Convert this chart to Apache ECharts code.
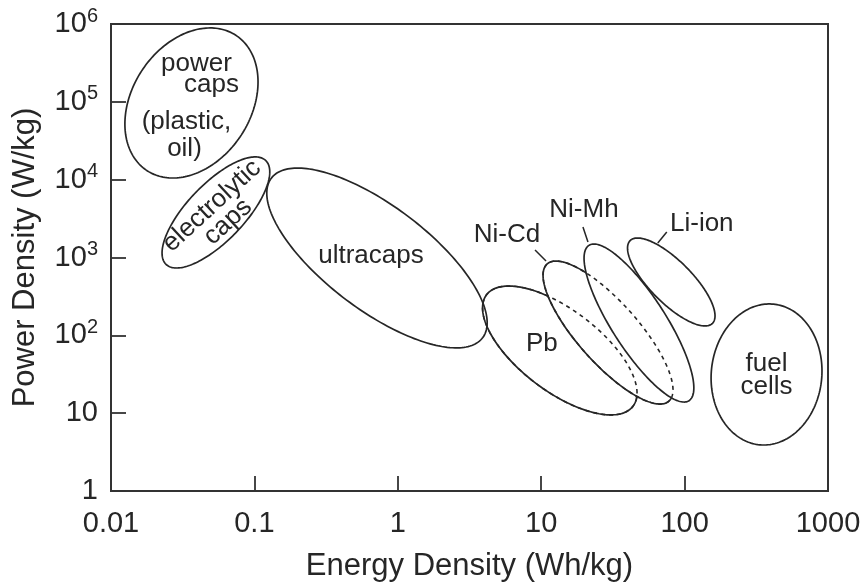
<!DOCTYPE html>
<html>
<head>
<meta charset="utf-8">
<script src="https://cdn.jsdelivr.net/npm/echarts@6/dist/echarts.min.js"></script>
<style>
  html, body { margin: 0; padding: 0; background: #ffffff; }
  #chart { width: 866px; height: 587px; }
</style>
</head>
<body>
<div id="chart"></div>
<script>
// Ragone plot: each storage technology occupies an elliptical region in
// (energy density, power density) space, both on log scales.
const technologies = ['power caps', 'electrolytic caps', 'ultracaps', 'Pb', 'Ni-Cd', 'Ni-Mh', 'Li-ion', 'fuel cells'];
// Extent of each region (Wh/kg and W/kg)
const energyMin = [0.0125, 0.0227, 0.122, 3.9, 10.3, 19.9, 40, 153];
const energyMax = [0.106, 0.128, 4.2, 46.6, 83, 116, 163, 908];
const powerMin  = [1.05e4, 733, 69, 9.5, 13.1, 13.9, 132, 3.9];
const powerMax  = [8.9e5, 1.96e4, 1.41e4, 430, 900, 1490, 1780, 253];
// Correlation between log energy and log power inside each region (tilt)
const tilt = [0.28, 0.73, -0.72, -0.66, -0.8, -0.82, -0.77, 0.05];

const energyTicks = ['0.01', '0.1', '1', '10', '100', '1000'];
const powerTicks = ['1', '10', '10^2', '10^3', '10^4', '10^5', '10^6'];

const INK = '#262626';
const FONT = '"Liberation Sans", Arial, Helvetica, sans-serif';

// Drawing style per region: opaque regions hide what lies beneath,
// and their hidden outline is redrawn dashed.
const regionStyle = {
  'Pb':    { fill: '#ffffff', hidden: true,  order: 0 },
  'Ni-Cd': { fill: '#ffffff', hidden: true,  order: 1 },
  'Ni-Mh': { fill: '#ffffff', hidden: false, order: 2 }
};

// Label placement, in pixels from the region centre
const labelLayout = {
  'power caps': { lines: [['power', 5, -39], ['caps', 20, -18], ['(plastic,', -5, 19], ['oil)', -7, 46]] },
  'electrolytic caps': { rotate: 42.5, lines: [['electrolytic', -4, -6.5], ['caps', 12, 9.5]] },
  'ultracaps': { lines: [['ultracaps', -6, -2]] },
  'Pb': { lines: [['Pb', -18, -7]] },
  'Ni-Cd': { lines: [['Ni-Cd', -101, -97.5]], leader: [-73, -82.5, -62, -71.5] },
  'Ni-Mh': { lines: [['Ni-Mh', -55, -113]], leader: [-56, -96, -51, -81] },
  'Li-ion': { lines: [['Li-ion', 30.5, -58]], leader: [-4.5, -50, -13.5, -39] },
  'fuel cells': { lines: [['fuel', 0, -11], ['cells', 0, 12]] }
};

const lg = Math.log10;

function regionGeometry(i) {
  return {
    cx: (lg(energyMin[i]) + lg(energyMax[i])) / 2,
    hx: (lg(energyMax[i]) - lg(energyMin[i])) / 2,
    cy: (lg(powerMin[i]) + lg(powerMax[i])) / 2,
    hy: (lg(powerMax[i]) - lg(powerMin[i])) / 2,
    r: tilt[i]
  };
}

// Outline of a region, traced in log space and projected with the axes
function outline(i, api) {
  const g = regionGeometry(i);
  const q = Math.sqrt(1 - g.r * g.r);
  const pts = [];
  const n = 200;
  for (let k = 0; k < n; k++) {
    const t = (k / n) * Math.PI * 2;
    const c = Math.cos(t), s = Math.sin(t);
    const e = Math.pow(10, g.cx + g.hx * c);
    const p = Math.pow(10, g.cy + g.hy * (g.r * c + q * s));
    pts.push(api.coord([e, p]));
  }
  return pts;
}

const centers = technologies.map((name, i) => {
  const g = regionGeometry(i);
  return { name: name, value: [Math.pow(10, g.cx), Math.pow(10, g.cy)] };
});

function renderRegion(params, api) {
  const i = params.dataIndex;
  const st = regionStyle[technologies[i]];
  return {
    type: 'polygon',
    z2: st ? st.order : 10,
    shape: { points: outline(i, api), smooth: 0 },
    style: { fill: st ? st.fill : 'none', stroke: INK, lineWidth: 1.7 }
  };
}

function renderHidden(params, api) {
  const i = params.dataIndex;
  const st = regionStyle[technologies[i]];
  if (!st || !st.hidden) return { type: 'group', children: [] };
  return {
    type: 'polygon',
    shape: { points: outline(i, api) },
    style: { fill: 'none', stroke: INK, lineWidth: 1.6, lineDash: [4, 4] }
  };
}

function renderLabel(params, api) {
  const i = params.dataIndex;
  const lay = labelLayout[technologies[i]];
  const c = api.coord(centers[i].value);
  const children = lay.lines.map(([txt, dx, dy]) => ({
    type: 'text',
    x: c[0] + dx,
    y: c[1] + dy,
    rotation: lay.rotate ? lay.rotate * Math.PI / 180 : 0,
    style: {
      text: txt, fill: INK, font: '26px ' + FONT,
      align: 'center', verticalAlign: 'middle'
    }
  }));
  if (lay.leader) {
    const [x1, y1, x2, y2] = lay.leader;
    children.push({
      type: 'line',
      shape: { x1: c[0] + x1, y1: c[1] + y1, x2: c[0] + x2, y2: c[1] + y2 },
      style: { stroke: INK, lineWidth: 1.5 }
    });
  }
  return { type: 'group', children: children };
}

const chart = echarts.init(document.getElementById('chart'), null, { renderer: 'canvas' });

chart.setOption({
  animation: false,
  backgroundColor: '#ffffff',
  grid: {
    left: 111, right: 38, top: 24, bottom: 96,
    show: true, borderColor: '#333333', borderWidth: 2, backgroundColor: 'transparent'
  },
  xAxis: {
    type: 'log', logBase: 10, min: 0.01, max: 1000,
    name: 'Energy Density (Wh/kg)',
    nameLocation: 'middle', nameGap: 60,
    nameTextStyle: { color: INK, fontSize: 31, fontFamily: FONT },
    axisLine: { show: true, lineStyle: { color: '#333333', width: 2 } },
    axisTick: { show: true, inside: true, length: 15, lineStyle: { color: '#333333', width: 1.8 } },
    splitLine: { show: false },
    axisLabel: {
      margin: 18, color: INK, fontSize: 29, fontFamily: FONT,
      formatter: v => energyTicks[Math.round(lg(v)) + 2]
    }
  },
  yAxis: {
    type: 'log', logBase: 10, min: 1, max: 1e6,
    name: 'Power Density (W/kg)',
    nameLocation: 'middle', nameGap: 70,
    nameTextStyle: { color: INK, fontSize: 31, fontFamily: FONT },
    axisLine: { show: true, lineStyle: { color: '#333333', width: 2 } },
    axisTick: { show: true, inside: true, length: 15, lineStyle: { color: '#333333', width: 1.8 } },
    splitLine: { show: false },
    axisLabel: {
      margin: 13, color: INK, fontFamily: FONT,
      formatter: v => {
        const t = powerTicks[Math.round(lg(v))];
        const parts = t.split('^');
        return parts.length > 1 ? '{b|' + parts[0] + '}{s|' + parts[1] + '}' : '{b|' + t + '}';
      },
      rich: {
        b: { fontSize: 29, lineHeight: 36, fontFamily: FONT, color: INK },
        s: { fontSize: 20, lineHeight: 20, verticalAlign: 'top', fontFamily: FONT, color: INK }
      }
    }
  },
  series: [
    { type: 'custom', name: 'regions', renderItem: renderRegion, data: centers, z: 2, silent: true },
    { type: 'custom', name: 'hidden outlines', renderItem: renderHidden, data: centers, z: 3, silent: true },
    { type: 'custom', name: 'labels', renderItem: renderLabel, data: centers, z: 4, silent: true }
  ]
});
</script>
</body>
</html>
